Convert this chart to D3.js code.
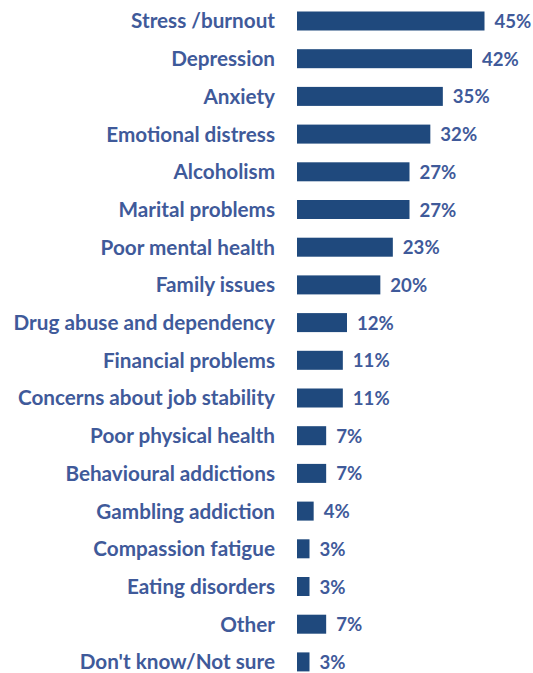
<!DOCTYPE html>
<html>
<head>
<meta charset="utf-8">
<script src="https://cdn.jsdelivr.net/npm/d3@7"></script>
<style>
  html, body { margin: 0; padding: 0; background: #ffffff; }
  svg { display: block; }
</style>
</head>
<body>
<svg id="chart" width="533" height="673"></svg>
<script>
const categories = [
  "Stress /burnout", "Depression", "Anxiety", "Emotional distress", "Alcoholism",
  "Marital problems", "Poor mental health", "Family issues", "Drug abuse and dependency",
  "Financial problems", "Concerns about job stability", "Poor physical health",
  "Behavioural addictions", "Gambling addiction", "Compassion fatigue",
  "Eating disorders", "Other", "Don't know/Not sure"
];
const values = [45, 42, 35, 32, 27, 27, 23, 20, 12, 11, 11, 7, 7, 4, 3, 3, 7, 3];
const valueLabels = values.map(v => v + "%");

const svg = d3.select("#chart");
const barLeft = 297, labelRight = 275;
const plotTop = 2.15, plotBottom = 680.75;

const x = d3.scaleLinear().domain([0, 45]).range([barLeft, barLeft + 187.5]);
const y = d3.scaleBand().domain(categories).range([plotTop, plotBottom])
  .paddingInner(0.496).paddingOuter(0.248);

const font = "Lato, 'Open Sans', sans-serif";
const labelSize = 20.7;
const valueSize = 18.6;
const barColor = "#1f497d";
const textColor = "#3f5a9a";

const rows = svg.selectAll("g.row").data(categories).join("g").attr("class", "row");

rows.append("rect")
  .attr("x", x(0))
  .attr("y", d => y(d))
  .attr("width", (d, i) => x(values[i]) - x(0))
  .attr("height", y.bandwidth())
  .attr("fill", barColor);

rows.append("text")
  .attr("x", labelRight)
  .attr("y", d => y(d) + y.bandwidth() / 2)
  .attr("dy", "0.36em")
  .attr("text-anchor", "end")
  .attr("font-family", font)
  .attr("font-weight", "bold")
  .attr("font-size", labelSize)
  .attr("fill", textColor)
  .text(d => d);

rows.append("text")
  .attr("x", (d, i) => x(values[i]) + 10)
  .attr("y", d => y(d) + y.bandwidth() / 2)
  .attr("dy", "0.38em")
  .attr("font-family", font)
  .attr("font-weight", "bold")
  .attr("font-size", valueSize)
  .attr("fill", textColor)
  .text((d, i) => valueLabels[i]);
</script>
</body>
</html>
